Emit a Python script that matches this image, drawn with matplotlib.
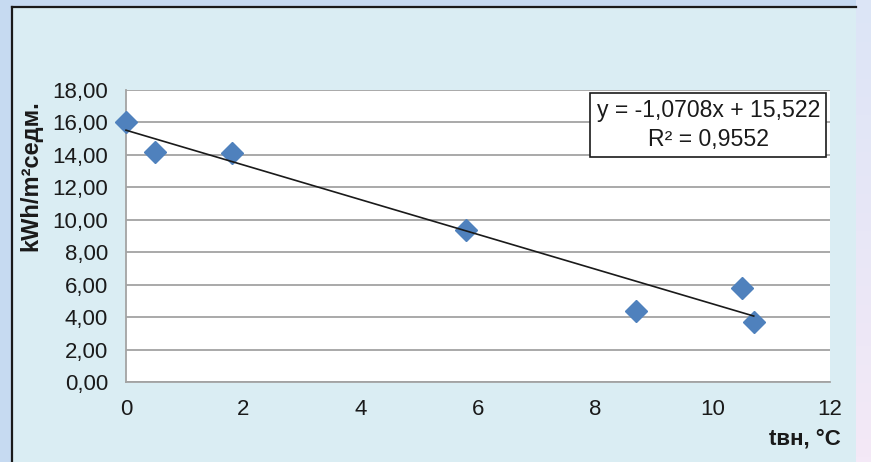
import matplotlib
matplotlib.use("Agg")
import matplotlib.pyplot as plt
import numpy as np
from matplotlib.patches import Rectangle
from matplotlib.colors import LinearSegmentedColormap

plt.rcParams['font.family'] = ['Liberation Sans', 'DejaVu Sans']

# data
t_vn = [0.0, 0.5, 1.8, 5.8, 8.7, 10.5, 10.7]
kwh = [16.0, 14.2, 14.1, 9.4, 4.4, 5.8, 3.7]
slope, intercept = -1.0708, 15.522
y_ticks = [0, 2, 4, 6, 8, 10, 12, 14, 16, 18]
x_ticks = [0, 2, 4, 6, 8, 10, 12]
eq_text = "y = -1,0708x + 15,522\nR² = 0,9552"
y_label = "kWh/m²седм."
x_label = "tвн, °C"

W, H = 871, 462
fig = plt.figure(figsize=(W / 100, H / 100), dpi=100)
fig.patch.set_facecolor('#c6daf1')

def fx(px):
    return px / W

def fy(py):
    return 1 - py / H

# background axes in pixel coordinates
bg = fig.add_axes([0, 0, 1, 1], zorder=-10)
bg.set_axis_off()
bg.add_patch(Rectangle((0, 0), W, H, facecolor='#c6daf1', edgecolor='none'))
grad = np.linspace(0, 1, 100).reshape(-1, 1)
cm = LinearSegmentedColormap.from_list('g', ['#dce5f6', '#f4e9f7'])
bg.imshow(grad, aspect='auto', cmap=cm, extent=[856, W, H, 0], zorder=1)
bg.add_patch(Rectangle((12, 7), 856 - 12, H, facecolor='#daedf3', edgecolor='none', zorder=2))
bg.plot([12, 12], [7, H], color='#1a1a1a', lw=1.6, zorder=3)
bg.plot([12, 856], [7, 7], color='#1a1a1a', lw=1.6, zorder=3)
bg.set_xlim(0, W)
bg.set_ylim(H, 0)

# plot area
left, right, top, bottom = 126, 830, 90, 382
ax = fig.add_axes([fx(left), fy(bottom), fx(right - left), (bottom - top) / H], zorder=1)
ax.set_facecolor('white')
ax.set_xlim(0, 12)
ax.set_ylim(0, 18)
ax.set_yticks(y_ticks)
ax.set_xticks(x_ticks)
ax.set_yticklabels([f"{v:.2f}".replace('.', ',') for v in y_ticks])
ax.set_xticklabels([str(v) for v in x_ticks])
ax.tick_params(length=0, labelsize=16, colors='#1a1a1a')
ax.tick_params(axis='y', pad=13)
ax.tick_params(axis='x', pad=12)
ax.grid(axis='y', color='#a3a3a3', lw=1.3)
ax.set_axisbelow(True)
for s in ['top', 'right']:
    ax.spines[s].set_visible(False)
for s in ['left', 'bottom']:
    ax.spines[s].set_color('#a3a3a3')
    ax.spines[s].set_linewidth(1.3)

ax.plot(t_vn, kwh, linestyle='none', marker='D', markersize=11,
        color='#4f81bd', clip_on=False, zorder=3)
xs = np.array([min(t_vn), max(t_vn)])
ax.plot(xs, slope * xs + intercept, color='#1a1a1a', lw=1.2, zorder=4, clip_on=False)

ax.text(0.827, 0.968, eq_text, transform=ax.transAxes, ha='center', va='top',
        fontsize=16.6, color='#1a1a1a', linespacing=1.3,
        bbox=dict(boxstyle='square,pad=0.28', facecolor='white', edgecolor='#1a1a1a', lw=1.2),
        zorder=5)

fig.text(fx(31), fy(176), y_label, rotation=90, ha='center', va='center',
         fontsize=17, fontweight='bold', color='#1a1a1a')
fig.text(fx(841), fy(439), x_label, ha='right', va='center',
         fontsize=16, fontweight='bold', color='#1a1a1a')

fig.savefig('out.png', dpi=100, facecolor=fig.get_facecolor())
